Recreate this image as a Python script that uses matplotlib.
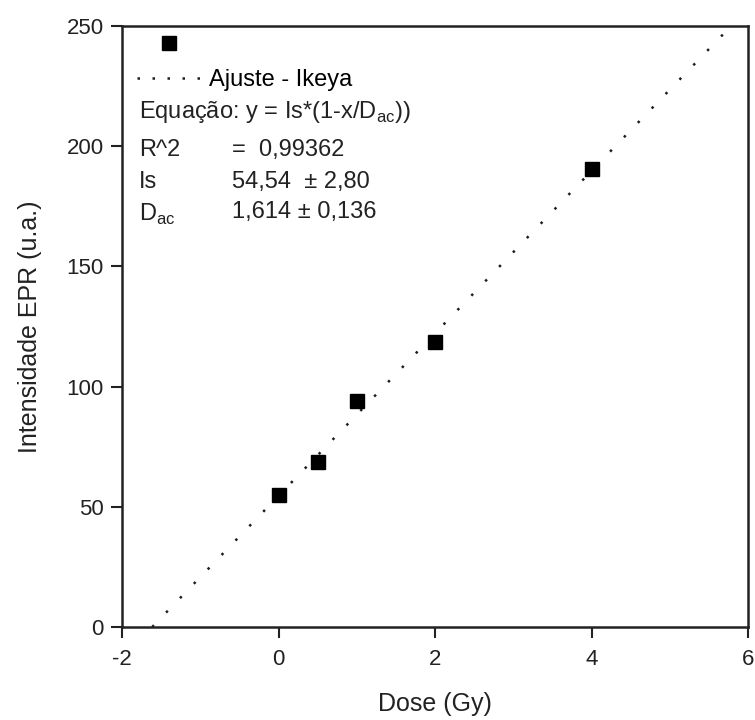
import numpy as np
import matplotlib
matplotlib.use('Agg')
from matplotlib import pyplot as plt
from matplotlib.lines import Line2D

plt.rcParams['font.family'] = ['Liberation Sans', 'DejaVu Sans']
plt.rcParams['mathtext.fontset'] = 'custom'
plt.rcParams['mathtext.rm'] = 'Liberation Sans'
plt.rcParams['axes.unicode_minus'] = False

# dose (Gy) vs EPR intensity
dose = [0, 0.5, 1, 2, 4]
intensidade = [55, 68.5, 94, 118.5, 190.5]

# Ikeya fit parameters
Is = 54.54
Dac = 1.614
R2 = '0,99362'
fit_x = np.linspace(-Dac, 6, 300)
fit_y = Is * (1 + fit_x / Dac)

W, H = 755, 720
fig = plt.figure(figsize=(W / 100, H / 100), dpi=100)
L, R, T, B = 122, 748, 26, 627
ax = fig.add_axes([L / W, 1 - B / H, (R - L) / W, (B - T) / H])

dots = (0, (1, 7.0))
ax.plot(fit_x, fit_y, color='#1e1e1e', linestyle=dots, linewidth=1.8)
ax.plot(dose, intensidade, 's', color='black', markersize=9.5)

ax.set_xlim(-2, 6)
ax.set_ylim(0, 250)
ax.set_xticks([-2, 0, 2, 4, 6])
ax.set_yticks([0, 50, 100, 150, 200, 250])
ax.tick_params(direction='out', length=8, width=1.5, labelsize=16, colors='#222222')
ax.tick_params(axis='x', pad=8)
ax.tick_params(axis='y', pad=5)
for s in ax.spines.values():
    s.set_linewidth(1.8)
    s.set_color('#222222')
ax.set_xlabel('Dose (Gy)', fontsize=18, labelpad=16, color='#222222')
ax.set_ylabel('Intensidade EPR (u.a.)', fontsize=18, labelpad=18, color='#222222')

def fx(px):
    return (px - L) / (R - L)
def fy(py):
    return (B - py) / (B - T)

# legend: data marker (no label) and the fit line
h_data = Line2D([], [], marker='s', color='black', linestyle='none', markersize=9.5)
h_fit = Line2D([], [], color='#1e1e1e', linestyle=(0, (1, 5)), linewidth=1.8)
ax.legend([h_data, h_fit], [' ', 'Ajuste - Ikeya'], loc='upper left', frameon=False,
          fontsize=17, handlelength=2.7, handletextpad=0.35, borderpad=0,
          borderaxespad=0, labelspacing=0.55, bbox_to_anchor=(fx(137), fy(34)))

fs = 17
c = '#222222'
ax.text(fx(139), fy(112), 'Equação: y = Is*(1-x/D$_{\\mathregular{ac}}$))', transform=ax.transAxes,
        fontsize=fs, va='center', color=c)
ax.text(fx(139), fy(150), 'R^2', transform=ax.transAxes, fontsize=fs, va='center', color=c)
ax.text(fx(232), fy(150), '=  ' + R2, transform=ax.transAxes, fontsize=fs, va='center', color=c)
ax.text(fx(139), fy(182), 'Is', transform=ax.transAxes, fontsize=fs, va='center', color=c)
ax.text(fx(232), fy(182), '54,54  ± 2,80', transform=ax.transAxes, fontsize=fs, va='center', color=c)
ax.text(fx(139), fy(214), 'D$_{\\mathregular{ac}}$', transform=ax.transAxes, fontsize=fs, va='center', color=c)
ax.text(fx(232), fy(212), '1,614 ± 0,136', transform=ax.transAxes, fontsize=fs, va='center', color=c)

fig.savefig('out.png', dpi=100)
